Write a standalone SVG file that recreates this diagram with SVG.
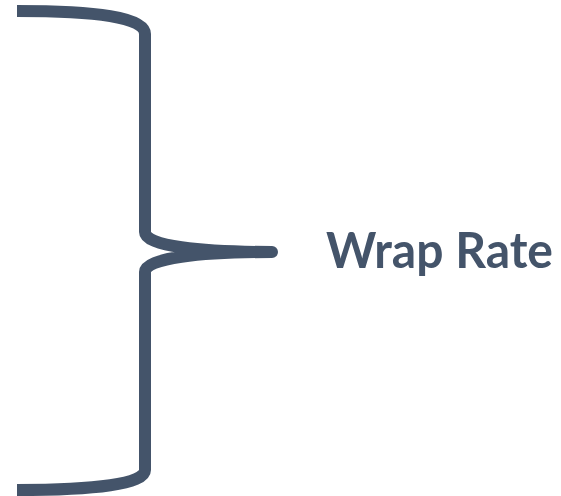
<svg xmlns="http://www.w3.org/2000/svg" width="561" height="496" viewBox="0 0 561 496">
<style>
.brace{fill:none;stroke:#44546A;stroke-width:12;stroke-linecap:butt;stroke-linejoin:round}
.lbl{font-family:Lato,"Open Sans","Liberation Sans",sans-serif;font-weight:700;font-size:50px;fill:#44546A}
</style>
<g id="connectors">
<path class="brace" d="M17,11 C95,11 145,17 145,34 L145,232 C145,246 200,252 272,252 C200,252 145,258 145,272 L145,470 C145,484 95,490 17,490"/>
</g>
<g id="label">
<text class="lbl" x="326" y="268" textLength="227" lengthAdjust="spacingAndGlyphs">Wrap Rate</text>
</g>
</svg>
